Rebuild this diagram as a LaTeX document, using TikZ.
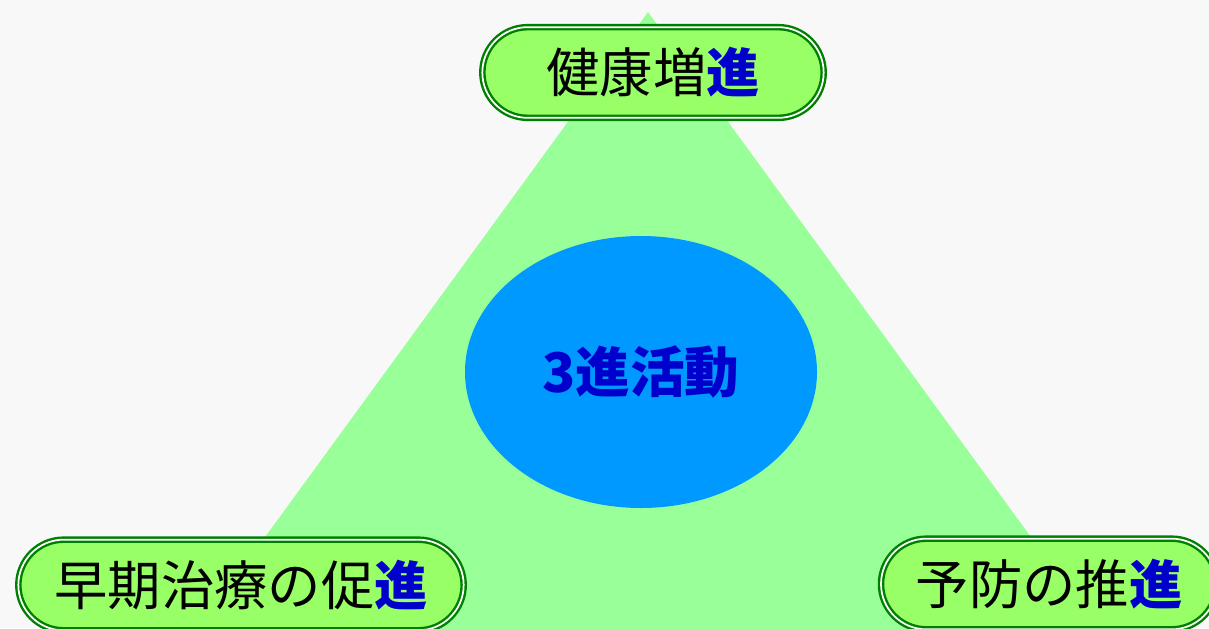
\documentclass[tikz,border=0pt]{standalone}
\usepackage{fontspec}
\newfontfamily\cjk{Noto Sans CJK JP}
\usetikzlibrary{shapes.misc,shapes.geometric}
\definecolor{bgc}{HTML}{F8F8F8}
\definecolor{trig}{HTML}{99FF99}
\definecolor{ellc}{HTML}{0099FF}
\definecolor{txtb}{HTML}{0000CC}
\definecolor{boxf}{HTML}{99FF66}
\definecolor{boxd}{HTML}{008000}
\tikzset{
  pillbox/.style={rounded rectangle, fill=boxf, draw=boxd, double=white,
    line width=1.8pt, double distance=1.3pt, minimum height=68pt,
    inner sep=0pt, font=\cjk\fontsize{40}{40}\selectfont},
  hub/.style={ellipse, fill=ellc, inner sep=0pt, minimum width=264pt, minimum height=204pt,
    font=\cjk\bfseries\fontsize{41}{41}\selectfont, text=txtb}
}
\newcommand{\shin}{\textcolor{txtb}{\bfseries 進}}
\begin{document}
\begin{tikzpicture}[x=0.75pt,y=-0.75pt]
\fill[bgc] (0,0) rectangle (1209,628);
\useasboundingbox (0,0) rectangle (1209,628);
\begin{scope}
\clip (0,0) rectangle (1209,628);
\coordinate (apex) at (648,12);
\coordinate (bl) at (190,640);
\coordinate (br) at (1106,640);
\fill[trig] (apex) -- (bl) -- (br) -- cycle;
\node[hub] (center) at (641,372) {3進活動};
\node[pillbox, minimum width=256pt] (top) at (653,72.5) {健康増\shin};
\node[pillbox, minimum width=334pt] (left) at (241,585) {早期治療の促\shin};
\node[pillbox, minimum width=252pt] (right) at (1049,584) {予防の推\shin};
\end{scope}
\end{tikzpicture}
\end{document}
